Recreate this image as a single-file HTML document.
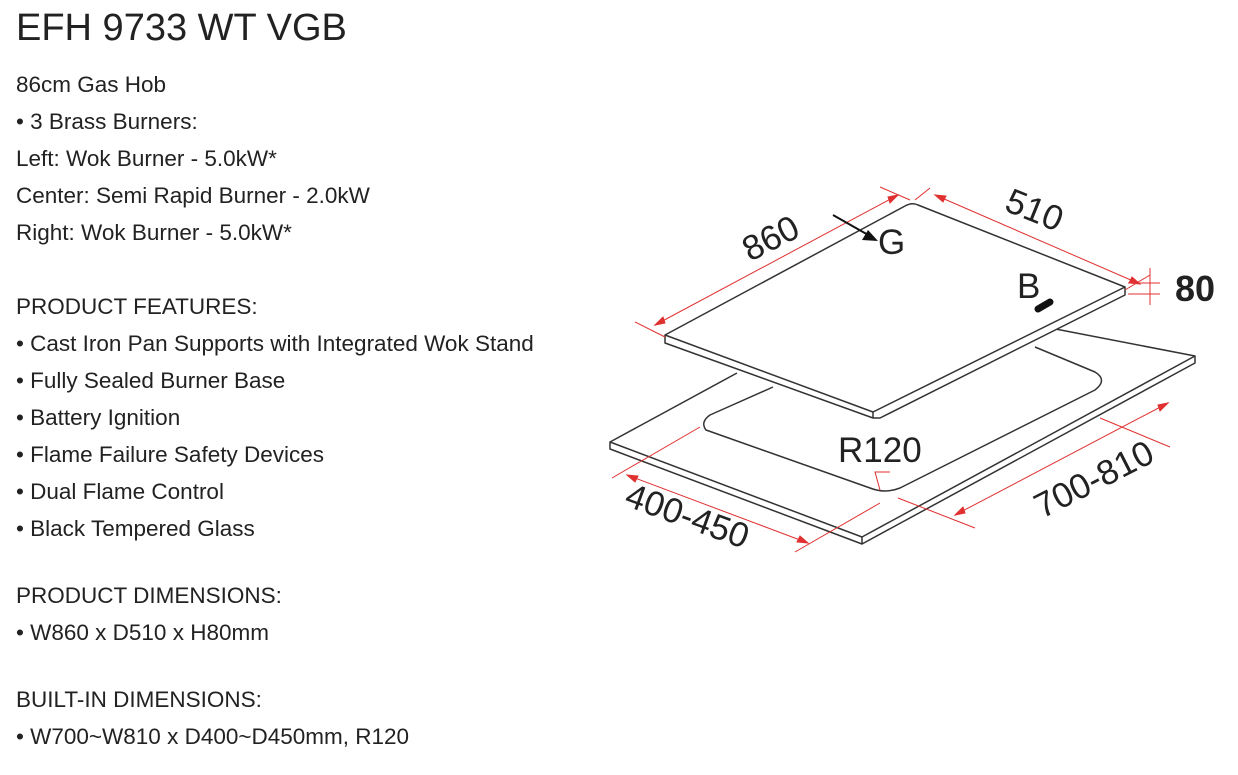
<!DOCTYPE html>
<html><head><meta charset="utf-8"><style>
body{margin:0;width:1238px;height:775px;background:#fff;font-family:"Liberation Sans",sans-serif;color:#222;position:relative;overflow:hidden}
h1{position:absolute;left:16px;top:7px;margin:0;font-weight:normal;font-size:38px;color:#222}
.t{position:absolute;left:16px;font-size:22.5px;line-height:24px;white-space:nowrap}
svg{position:absolute;left:0;top:0}
</style></head><body>
<h1>EFH 9733 WT VGB</h1>
<div class="t" style="top:73px">86cm Gas Hob</div>
<div class="t" style="top:110px">• 3 Brass Burners:</div>
<div class="t" style="top:147px">Left: Wok Burner - 5.0kW*</div>
<div class="t" style="top:184px">Center: Semi Rapid Burner - 2.0kW</div>
<div class="t" style="top:221px">Right: Wok Burner - 5.0kW*</div>
<div class="t" style="top:295px">PRODUCT FEATURES:</div>
<div class="t" style="top:332px">• Cast Iron Pan Supports with Integrated Wok Stand</div>
<div class="t" style="top:369px">• Fully Sealed Burner Base</div>
<div class="t" style="top:406px">• Battery Ignition</div>
<div class="t" style="top:443px">• Flame Failure Safety Devices</div>
<div class="t" style="top:480px">• Dual Flame Control</div>
<div class="t" style="top:517px">• Black Tempered Glass</div>
<div class="t" style="top:584px">PRODUCT DIMENSIONS:</div>
<div class="t" style="top:621px">• W860 x D510 x H80mm</div>
<div class="t" style="top:688px">BUILT-IN DIMENSIONS:</div>
<div class="t" style="top:725px">• W700~W810 x D400~D450mm, R120</div>
<svg width="1238" height="775" viewBox="0 0 1238 775">
<g fill="none" stroke="#333" stroke-width="1.5" stroke-linejoin="round">
<polyline points="737,373 610,442 610,449 862,544 1195,363 1195,356 1040,326"/>
<polyline points="610,442 862,537 1195,356"/>
<line x1="862" y1="537" x2="862" y2="544"/>
<path d="M773,387 L710,415 Q700,422 706,430 L870,488 Q885,494 900,488 L1095,390 Q1108,380 1095,372 L1035,347"/>
<path d="M905,206 Q912,202 918,205 L1125,287 L1125,295 L880,418 L873,418 L665,343 L665,335 Z" fill="#fff"/>
<polyline points="665,335 873,412 1125,287"/>
<line x1="873" y1="412" x2="873" y2="418"/>
</g>
<g stroke="#e03030" stroke-width="1" fill="#e03030">
<line x1="655" y1="325" x2="898" y2="195"/><line x1="635" y1="322" x2="665" y2="337"/><line x1="880" y1="187" x2="910" y2="200"/>
<polygon points="655,325 663,317 665,323"/><polygon points="898,195 890,203 888,197"/>
<line x1="935" y1="195" x2="1140" y2="284"/><line x1="915" y1="200" x2="930" y2="188"/><line x1="1125" y1="290" x2="1150" y2="275"/>
<polygon points="935,195 946,196 943,202"/><polygon points="1140,284 1129,283 1132,277"/>
<line x1="1128" y1="283" x2="1160" y2="283"/><line x1="1128" y1="294" x2="1160" y2="294"/>
<line x1="1150" y1="268" x2="1150" y2="305"/>
<line x1="1100" y1="418" x2="1170" y2="447"/><line x1="955" y1="515" x2="1168" y2="403"/><line x1="898" y1="498" x2="975" y2="528"/>
<polygon points="1168,403 1160,411 1158,405"/><polygon points="955,515 963,507 965,513"/>
<line x1="700" y1="427" x2="612" y2="478"/><line x1="880" y1="503" x2="795" y2="552"/>
<line x1="627" y1="475" x2="808" y2="543"/>
<polygon points="627,475 638,476 635,482"/><polygon points="808,543 797,542 800,536"/>
<polyline points="880,490 875,472 890,472" fill="none"/>
</g>
<line x1="833" y1="215" x2="870" y2="236" stroke="#111" stroke-width="2"/>
<polygon points="878,241 862,240 868,230" fill="#111"/>
<line x1="1038" y1="309" x2="1050" y2="302" stroke="#111" stroke-width="7" stroke-linecap="round"/>
<g font-family="Liberation Sans,sans-serif" fill="#222" font-size="35">
<text x="878" y="254">G</text>
<text x="1017" y="298">B</text>
<text x="1175" y="301" font-weight="bold" font-size="36">80</text>
<text x="838" y="462">R120</text>
<text transform="translate(750,262) rotate(-27)">860</text>
<text transform="translate(1003,210) rotate(22)">510</text>
<text transform="translate(1042,519) rotate(-27)">700-810</text>
<text transform="translate(623,505) rotate(20)">400-450</text>
</g>
</svg>
</body></html>
